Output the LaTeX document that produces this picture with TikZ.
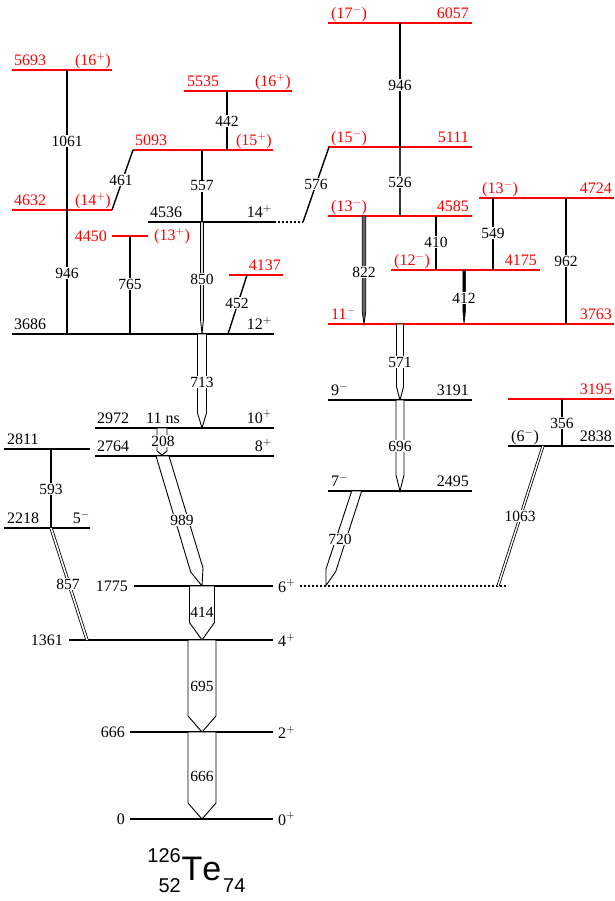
\documentclass[tikz,border=0pt]{standalone}
\usepackage{fontspec}
\setmainfont{Liberation Serif}
\newfontfamily\hsans[Kerning=Off]{Liberation Sans}
\definecolor{lvred}{RGB}{255,0,0}
\tikzset{
  lvl/.style={line width=1.2pt, black},
  lvlr/.style={line width=2.6pt, lvred},
  lab/.style={font=\fontsize{16}{16}\selectfont, inner sep=0pt},
  labr/.style={lab, text=lvred},
  gam/.style={font=\fontsize{15.5}{15.5}\selectfont, fill=white, inner sep=0.8pt},
  tr/.style={line width=1.4pt, black},
  arr/.style={line width=0.9pt, fill=white, line join=miter},
  dots/.style={line width=1.2pt, dash pattern=on 2pt off 2pt},
}
% vertical arrow: x, top, tip, half width, head length
\newcommand\vgam[5]{\draw[arr] ({#1-#4},#2) -- ({#1-#4},{#3-#5}) -- (#1,#3) -- ({#1+#4},{#3-#5}) -- ({#1+#4},#2) -- cycle;}
\begin{document}
\begin{tikzpicture}[x=1pt,y=-1pt]
\useasboundingbox (0,0) rectangle (614,901);
% ---------------- levels (left part) ----------------
\draw[lvlr] (12,70) -- (112,70);
\node[labr,anchor=base west] (n5693) at (14,65.5) {5693};
\node[labr,anchor=base east] (s5693) at (111,65.5) {(16$^{+}$)};
\draw[lvlr] (12,210) -- (112,210);
\node[labr,anchor=base west] (n4632) at (14,205.5) {4632};
\node[labr,anchor=base east] (s4632) at (111,205.5) {(14$^{+}$)};
\draw[lvlr] (184,91) -- (292,91);
\node[labr,anchor=base west] (n5535) at (187,86.5) {5535};
\node[labr,anchor=base east] (s5535) at (291,86.5) {(16$^{+}$)};
\draw[lvlr] (133,150) -- (273,150);
\node[labr,anchor=base west] (n5093) at (135,145.5) {5093};
\node[labr,anchor=base east] (s5093) at (272,145.5) {(15$^{+}$)};
\draw[lvl] (148,222) -- (276,222);
\draw[dots] (278,222) -- (303,222);
\node[lab,anchor=base west] (n4536) at (150,217.5) {4536};
\node[lab,anchor=base east] (s4536) at (272,217.5) {14$^{+}$};
\draw[lvlr] (112,236) -- (148,236);
\node[labr,anchor=east] (n4450) at (107,236) {4450};
\node[labr,anchor=west] (s4450) at (154,236) {(13$^{+}$)};
\draw[lvl] (12,334) -- (274,334);
\node[lab,anchor=base west] (n3686) at (14,329.5) {3686};
\node[lab,anchor=base east] (s3686) at (272,329.5) {12$^{+}$};
\draw[lvlr] (229,275) -- (283,275);
\node[labr,anchor=base east] (n4137) at (281,270.5) {4137};
\draw[line width=2.2pt] (95,428) -- (274,428);
\node[lab,anchor=base west] (n2972) at (97,423) {2972};
\node[lab,anchor=base west] (t2972) at (146,423) {11 ns};
\node[lab,anchor=base east] (s2972) at (272,423) {10$^{+}$};
\draw[lvl] (95,456) -- (274,456);
\node[lab,anchor=base west] (n2764) at (97,451.5) {2764};
\node[lab,anchor=base east] (s2764) at (272,451.5) {8$^{+}$};
\draw[lvl] (4,449) -- (90,449);
\node[lab,anchor=base west] (n2811) at (7,444.5) {2811};
\draw[lvl] (4,528) -- (90,528);
\node[lab,anchor=base west] (n2218) at (7,523.5) {2218};
\node[lab,anchor=base east] (s2218) at (90,523.5) {5$^{-}$};
\draw[lvl] (134,586) -- (273,586);
\node[lab,anchor=east] (n1775) at (128,586) {1775};
\node[lab,anchor=west] (s1775) at (278,586) {6$^{+}$};
\draw[dots] (300,586) -- (508,586);
\draw[lvl] (69,640) -- (273,640);
\node[lab,anchor=east] (n1361) at (63,640) {1361};
\node[lab,anchor=west] (s1361) at (278,640) {4$^{+}$};
\draw[lvl] (130,732) -- (273,732);
\node[lab,anchor=east] (n666) at (125,732) {666};
\node[lab,anchor=west] (s666) at (278,732) {2$^{+}$};
\draw[lvl] (130,819) -- (273,819);
\node[lab,anchor=east] (n0) at (125,819) {0};
\node[lab,anchor=west] (s0) at (278,819) {0$^{+}$};
% ---------------- levels (right part) ----------------
\draw[lvlr] (328,23) -- (472,23);
\node[labr,anchor=base west] (s6057) at (331,18.5) {(17$^{-}$)};
\node[labr,anchor=base east] (n6057) at (469,18.5) {6057};
\draw[lvlr] (328,147) -- (472,147);
\node[labr,anchor=base west] (s5111) at (331,142.5) {(15$^{-}$)};
\node[labr,anchor=base east] (n5111) at (469,142.5) {5111};
\draw[lvlr] (328,216) -- (472,216);
\node[labr,anchor=base west] (s4585) at (331,211.5) {(13$^{-}$)};
\node[labr,anchor=base east] (n4585) at (469,211.5) {4585};
\draw[lvlr] (479,198) -- (614,198);
\node[labr,anchor=base west] (s4724) at (482,193.5) {(13$^{-}$)};
\node[labr,anchor=base east] (n4724) at (612,193.5) {4724};
\draw[lvlr] (391,270) -- (540,270);
\node[labr,anchor=base west] (s4175) at (394,265.5) {(12$^{-}$)};
\node[labr,anchor=base east] (n4175) at (537,265.5) {4175};
\draw[lvlr] (328,324) -- (614,324);
\node[labr,anchor=base west] (s3763) at (331,319.5) {11$^{-}$};
\node[labr,anchor=base east] (n3763) at (612,319.5) {3763};
\draw[lvl] (328,400) -- (472,400);
\node[lab,anchor=base west] (s3191) at (331,395.5) {9$^{-}$};
\node[lab,anchor=base east] (n3191) at (469,395.5) {3191};
\draw[lvl] (328,491) -- (472,491);
\node[lab,anchor=base west] (s2495) at (331,486.5) {7$^{-}$};
\node[lab,anchor=base east] (n2495) at (469,486.5) {2495};
\draw[lvlr] (508,399) -- (614,399);
\node[labr,anchor=base east] (n3195) at (612,394.5) {3195};
\draw[lvl] (508,446) -- (614,446);
\node[lab,anchor=base west] (s2838) at (511,441.5) {(6$^{-}$)};
\node[lab,anchor=base east] (n2838) at (612,441.5) {2838};
% ---------------- transitions ----------------
\draw[tr] (67,70) -- (67,210);
\node[gam] (g1061) at (67,141) {1061};
\draw[tr] (227,91) -- (227,150);
\node[gam] (g442) at (227,121) {442};
\draw[tr] (133,150) -- (112,210);
\node[gam] (g461) at (121,180) {461};
\draw[tr] (202,150) -- (202,222);
\node[gam] (g557) at (202,186) {557};
\draw[tr] (329,147) -- (303,222);
\node[gam] (g576) at (316,184) {576};
\draw[tr] (67,210) -- (67,334);
\node[gam] (g946a) at (67,273) {946};
\draw[tr] (130,236) -- (130,334);
\node[gam] (g765) at (130,284) {765};
\vgam{202}{222}{334}{1.4}{14}
\node[gam] (g850) at (202,279) {850};
\draw[tr] (247,275) -- (228,334);
\node[gam] (g452) at (237,303) {452};
\vgam{202}{334}{428}{4.5}{15}
\node[gam] (g713) at (202,382) {713};
\vgam{162}{428}{455}{5}{4}
\node[gam] (g208) at (163,441) {208};
\draw[line width=2pt] (51,449) -- (51,528);
\node[gam] (g593) at (51,489) {593};
\draw[double, double distance=1.6pt, line width=0.8pt] (51,528) -- (87,640);
\node[gam] (g857) at (68,584) {857};
\draw[arr] (156,456) -- (190.7,572) -- (202,586) -- (203,568) -- (169,456) -- cycle;
\node[gam] (g989) at (182,520) {989};
\vgam{202}{586}{640}{12.5}{17.5}
\node[gam] (g414) at (202,612) {414};
\vgam{202}{640}{732}{14}{16}
\node[gam] (g695) at (202,686) {695};
\vgam{202}{732}{819}{14}{16}
\node[gam] (g666) at (202,776) {666};
\draw[tr] (400,23) -- (400,147);
\node[gam] (g946b) at (400,85) {946};
\draw[line width=2pt, black!80] (400,147) -- (400,216);
\node[gam] (g526) at (400,182) {526};
\draw[tr] (436,216) -- (436,270);
\node[gam] (g410) at (436,242) {410};
\draw[tr] (493,198) -- (493,270);
\node[gam] (g549) at (493,233) {549};
\draw[line width=1.2pt] (566,198) -- (566,324);
\node[gam] (g962) at (566,261) {962};
\draw[line width=0.8pt, fill=black!60] (362.3,216) -- (362.3,312) -- (364,324) -- (365.7,312) -- (365.7,216) -- cycle;
\node[gam] (g822) at (364,272) {822};
\draw[line width=0.6pt, fill=black] (462.8,270) -- (462.8,310) -- (464,324) -- (465.6,310) -- (465.6,270) -- cycle;
\node[gam] (g412) at (464,298) {412};
\vgam{400}{324}{400}{3.5}{13}
\node[gam] (g571) at (400,362) {571};
\vgam{400}{400}{491}{4}{16}
\node[gam] (g696) at (400,446) {696};
\draw[arr] (351.7,491) -- (326,569) -- (326,585.5) -- (335.7,571.7) -- (361.7,491) -- cycle;
\node[gam] (g720) at (340,539) {720};
\draw[tr] (562,399) -- (562,446);
\node[gam] (g356) at (562,423) {356};
\draw[double, double distance=1.4pt, line width=0.8pt] (543,446) -- (498,586);
\node[gam] (g1063) at (520,516) {1063};
% ---------------- nucleus name ----------------
\node[font=\hsans\fontsize{34}{34}\selectfont, anchor=base west, inner sep=0pt] (te) at (181.5,880.7) {Te};
\node[font=\hsans\fontsize{20}{20}\selectfont, anchor=base east, inner sep=0pt] (amass) at (181,862) {126};
\node[font=\hsans\fontsize{20}{20}\selectfont, anchor=base east, inner sep=0pt] (zval) at (181,892.5) {52};
\node[font=\hsans\fontsize{20}{20}\selectfont, anchor=base west, inner sep=0pt] (nval) at (223,892.5) {74};
\end{tikzpicture}
\end{document}
